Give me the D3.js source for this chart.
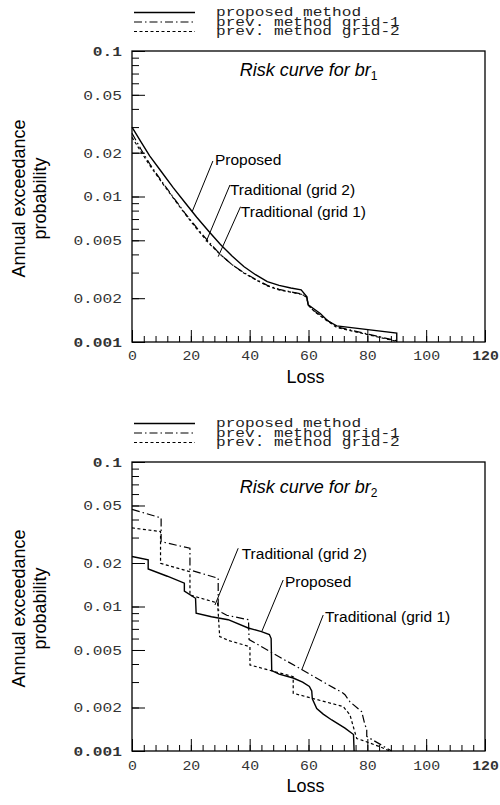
<!DOCTYPE html>
<html>
<head>
<meta charset="utf-8">
<script src="https://cdn.jsdelivr.net/npm/d3@7"></script>
<style>
body { margin: 0; background: #fff; }
svg { display: block; }
</style>
</head>
<body>
<svg id="chart" width="500" height="805"></svg>
<script>
// Axis ticks and labels.
var lossTicks = [0, 20, 40, 60, 80, 100, 120];
var probTicks = [0.1, 0.05, 0.02, 0.01, 0.005, 0.002, 0.001];
var probLabels = ['0.1', '0.05', '0.02', '0.01', '0.005', '0.002', '0.001'];
var boldLabels = ['0.1', '0.001', '120'];
var legendLabels = ['proposed method', 'prev. method grid-1', 'prev. method grid-2'];

// br1 risk curves, [loss, annual exceedance probability].
var br1Proposed = [[0, 0.030], [3, 0.0238], [6, 0.0190], [10, 0.0148], [14, 0.0115], [18, 0.0091],
    [22, 0.0072], [26, 0.0058], [30, 0.0047], [34, 0.0039], [38, 0.0033], [42, 0.0029],
    [46, 0.0026], [50, 0.00245], [54, 0.00235], [57.5, 0.00228], [59.4, 0.00205], [59.9, 0.0018],
    [62, 0.00168], [64, 0.00157], [66.5, 0.0014], [69.6, 0.00129], [90, 0.00115], [90, 0.001]];
var br1Grid1 = [[0, 0.0272], [3, 0.0212], [6, 0.0168], [10, 0.0128], [14, 0.0099], [18, 0.0077],
    [22, 0.0061], [26, 0.0049], [30, 0.0040], [34, 0.0034], [38, 0.0030], [42, 0.0027],
    [46, 0.00245], [50, 0.0023], [54, 0.00221], [57.5, 0.00214], [59.4, 0.00204], [59.9, 0.0018],
    [62, 0.00163], [65, 0.00148], [69.6, 0.00127], [90, 0.00102]];
var br1Grid2 = [[0, 0.0255], [3, 0.0204], [6, 0.0164], [10, 0.0126], [14, 0.0098], [18, 0.0076],
    [22, 0.0060], [26, 0.0048], [30, 0.0040], [34, 0.0034], [38, 0.00298], [42, 0.00268],
    [46, 0.00243], [50, 0.00228], [54, 0.0022], [57.5, 0.00213], [59.4, 0.00203], [59.9, 0.00179],
    [62, 0.00162], [65, 0.00146], [69.6, 0.00126], [90, 0.00101]];

// br2 risk curves.
var br2Proposed = [[0, 0.0222], [5.5, 0.0210], [5.5, 0.0182], [12, 0.0162], [17.8, 0.0145],
    [17.8, 0.0128], [21.6, 0.0114], [21.8, 0.0090], [27, 0.0085], [32.7, 0.0081], [39.5, 0.0071],
    [44, 0.0067], [46.7, 0.0064], [47.3, 0.0060], [47.5, 0.0036], [50, 0.0034], [54.8, 0.0032],
    [58, 0.0030], [60.3, 0.0028], [61.1, 0.0026], [61.3, 0.0023], [62.8, 0.00197], [65, 0.0018],
    [67.9, 0.00164], [72.4, 0.00144], [75.3, 0.0013], [75.5, 0.001]];
var br2Grid1 = [[0, 0.047], [9.9, 0.041], [9.9, 0.0281], [19.7, 0.0253], [19.7, 0.0179],
    [29.3, 0.01567], [29.3, 0.0095], [30.5, 0.0091], [32.2, 0.0087], [39.6, 0.0081], [39.8, 0.0059],
    [71.8, 0.00251], [72.4, 0.00245], [74.1, 0.00219], [78.1, 0.00187], [79.2, 0.00151],
    [79.8, 0.00143], [79.8, 0.00126], [87.2, 0.00103], [88.3, 0.001]];
var br2Grid2 = [[0, 0.035], [9.7, 0.033], [9.7, 0.0199], [19.7, 0.0174], [19.7, 0.0120],
    [29.1, 0.01057], [29.8, 0.0062], [33, 0.0058], [40.1, 0.00527], [40.1, 0.00394],
    [54.8, 0.00327], [54.8, 0.00251], [71.8, 0.00203], [74.1, 0.00178], [75.2, 0.00148],
    [76.4, 0.00122], [78.6, 0.00118], [84.3, 0.00107], [87.5, 0.001]];

var svg = d3.select('#chart');
var left = 132, right = 485;
var mono = '"Liberation Mono", "Courier New", monospace';
var sans = '"Liberation Sans", Arial, sans-serif';
var styles = [
    { dash: null, width: 1.4 },
    { dash: '8,3,1.5,3', width: 1.2 },
    { dash: '3,2.5', width: 1.2 }
];

function cleanAxis(sel) {
    sel.select('.domain').remove();
    sel.selectAll('.tick line').attr('stroke', '#000').attr('stroke-width', 1);
}

// Courier labels in the figure are wide, so stretch them sideways.
function monoLabels(sel, size, stretch) {
    sel.selectAll('.tick text')
        .attr('font-family', mono)
        .attr('font-size', size)
        .attr('fill', '#333')
        .attr('font-weight', function() {
            return boldLabels.indexOf(this.textContent) >= 0 ? 'bold' : 'normal';
        })
        .attr('x', function() {
            var v = +d3.select(this).attr('x') || 0;
            return v / stretch;
        })
        .attr('transform', 'scale(' + stretch + ',1)');
}

function drawPanel(p) {
    var x = d3.scaleLinear().domain([0, 120]).range([left, right]);
    var y = d3.scaleLog().domain([0.001, 0.1]).range([p.top + p.height, p.top]);
    var bottom = p.top + p.height;
    var g = svg.append('g');

    // Ticks, pointing into the plot.
    g.append('g')
        .attr('transform', 'translate(0,' + bottom + ')')
        .call(d3.axisBottom(x).tickValues(d3.range(0, 121, 4)).tickSize(-6).tickFormat(''))
        .call(cleanAxis);
    g.append('g')
        .attr('transform', 'translate(0,' + bottom + ')')
        .call(d3.axisBottom(x).tickValues(lossTicks).tickSize(-12).tickPadding(p.xPad))
        .call(cleanAxis)
        .call(monoLabels, 13.5, 1.1);
    g.append('g')
        .attr('transform', 'translate(' + left + ',0)')
        .call(d3.axisLeft(y).tickValues(y.ticks()).tickSize(-7).tickFormat(''))
        .call(cleanAxis);
    g.append('g')
        .attr('transform', 'translate(' + left + ',0)')
        .call(d3.axisLeft(y).tickValues(probTicks).tickSize(-13).tickPadding(10)
            .tickFormat(function(d, i) { return probLabels[i]; }))
        .call(cleanAxis)
        .call(monoLabels, 13.5, 1.2);

    // Frame.
    g.append('rect')
        .attr('x', left).attr('y', p.top)
        .attr('width', right - left).attr('height', p.height)
        .attr('fill', 'none').attr('stroke', '#000').attr('stroke-width', 1.3);

    // Curves.
    var line = d3.line()
        .x(function(d) { return x(d[0]); })
        .y(function(d) { return y(d[1]); });
    p.series.forEach(function(s, i) {
        g.append('path')
            .attr('d', line(s))
            .attr('fill', 'none')
            .attr('stroke', '#000')
            .attr('stroke-width', styles[i].width)
            .attr('stroke-dasharray', styles[i].dash);
    });

    // Annotations with leader lines.
    p.notes.forEach(function(n) {
        g.append('line')
            .attr('x1', x(n.from[0])).attr('y1', y(n.from[1]))
            .attr('x2', x(n.to[0])).attr('y2', y(n.to[1]))
            .attr('stroke', '#000').attr('stroke-width', 1);
        g.append('text')
            .attr('x', x(n.at[0])).attr('y', y(n.at[1]))
            .attr('font-family', sans)
            .attr('font-size', 15.5)
            .text(n.text);
    });

    // Title.
    var t = g.append('text')
        .attr('x', (left + right) / 2)
        .attr('y', p.top + p.titleDy)
        .attr('text-anchor', 'middle')
        .attr('font-family', sans)
        .attr('font-size', 18);
    t.append('tspan').attr('font-style', 'italic').text('Risk curve for br');
    t.append('tspan').attr('font-size', 12).attr('dy', 4).text(p.sub);

    // Axis titles.
    g.append('text')
        .attr('x', (left + right) / 2 - 3)
        .attr('y', bottom + 41)
        .attr('text-anchor', 'middle')
        .attr('font-family', sans)
        .attr('font-size', 18)
        .text('Loss');
    var yl = g.append('g')
        .attr('transform', 'translate(24.5,' + (p.top + p.height / 2 + 2) + ') rotate(-90)');
    ['Annual exceedance', 'probability'].forEach(function(s, i) {
        yl.append('text')
            .attr('y', i * 21.5)
            .attr('text-anchor', 'middle')
            .attr('font-family', sans)
            .attr('font-size', 18)
            .text(s);
    });

    // Legend above the frame.
    legendLabels.forEach(function(s, i) {
        var ly = p.top - 38.5 + i * 9.5;
        g.append('line')
            .attr('x1', 134).attr('x2', 195)
            .attr('y1', ly).attr('y2', ly)
            .attr('stroke', '#000')
            .attr('stroke-width', styles[i].width)
            .attr('stroke-dasharray', styles[i].dash);
        g.append('text')
            .attr('transform', 'translate(216,' + (ly + 3.5) + ') scale(1.26,1)')
            .attr('font-family', mono)
            .attr('font-size', 12.8)
            .attr('fill', '#222')
            .text(s);
    });
}

drawPanel({
    top: 51, height: 291, xPad: 8, titleDy: 25, sub: '1',
    series: [br1Proposed, br1Grid1, br1Grid2],
    notes: [
        { text: 'Proposed', at: [28.2, 0.01646], from: [27.5, 0.01754], to: [20.4, 0.00782] },
        { text: 'Traditional (grid 2)', at: [33.3, 0.01016], from: [33.3, 0.012], to: [25.2, 0.00489] },
        { text: 'Traditional (grid 1)', at: [37.0, 0.00723], from: [36.9, 0.00851], to: [29.3, 0.00386] }
    ]
});

drawPanel({
    top: 462, height: 289, xPad: 9.5, titleDy: 31, sub: '2',
    series: [br2Proposed, br2Grid1, br2Grid2],
    notes: [
        { text: 'Traditional (grid 2)', at: [37.3, 0.02138], from: [36.1, 0.0253], to: [28.2, 0.01024] },
        { text: 'Proposed', at: [52.0, 0.0136], from: [51.4, 0.01525], to: [44.1, 0.0067] },
        { text: 'Traditional (grid 1)', at: [65.6, 0.00778], from: [65.0, 0.00873], to: [57.7, 0.00364] }
    ]
});
</script>
</body>
</html>
